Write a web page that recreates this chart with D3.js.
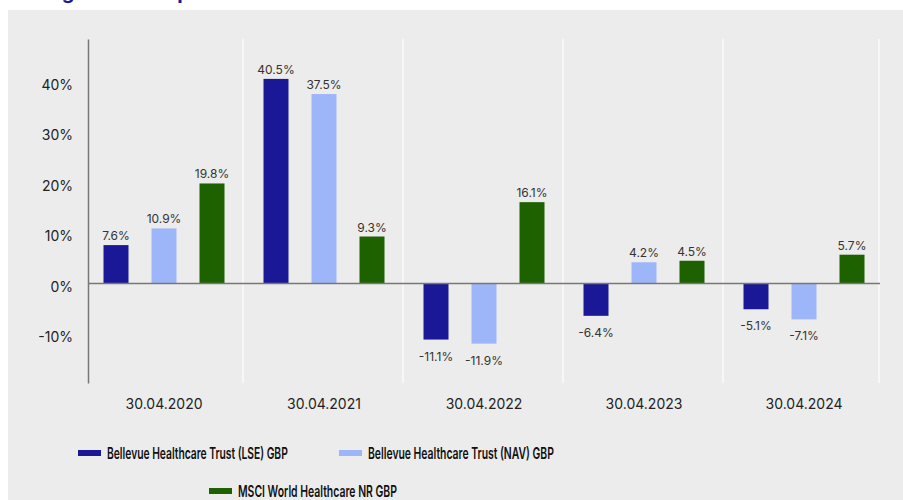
<!DOCTYPE html>
<html>
  <head>
    <meta charset="utf-8">
    <script src="https://d3js.org/d3.v7.min.js"></script>
    <style>
      body { margin: 0; background: #fff; }
      svg text { font-family: Inter, "Noto Sans", sans-serif; }
    </style>
  </head>
<body>
  <script type="text/javascript">
    // data
    var categories = ["30.04.2020", "30.04.2021", "30.04.2022", "30.04.2023", "30.04.2024"];
    var seriesNames = ["Bellevue Healthcare Trust (LSE) GBP", "Bellevue Healthcare Trust (NAV) GBP", "MSCI World Healthcare NR GBP"];
    var lseValues = [7.6, 40.5, -11.1, -6.4, -5.1];
    var navValues = [10.9, 37.5, -11.9, 4.2, -7.1];
    var msciValues = [19.8, 9.3, 16.1, 4.5, 5.7];
    var yTicks = [-10, 0, 10, 20, 30, 40];
    var colors = ["#1a1896", "#9db5f9", "#1e6100"];

    var allValues = [lseValues, navValues, msciValues];

    var svg = d3.select("body").append("svg")
      .attr("width", 903)
      .attr("height", 500);

    // grey panel
    svg.append("rect")
      .attr("x", 8).attr("y", 10)
      .attr("width", 895).attr("height", 490)
      .attr("fill", "#ececec");

    // title, cut off at the top as in the original
    svg.append("text")
      .attr("x", 8).attr("y", -1)
      .attr("font-size", 20)
      .attr("font-weight", 700)
      .attr("fill", "#1a1896")
      .text("Rolling 12-month performance");

    var x = d3.scaleBand().domain(categories).range([84, 884]);
    var xi = d3.scaleBand().domain(seriesNames).range([-72, 72]);
    var y = d3.scaleLinear().domain([-19.7, 48.4]).range([383, 39]);
    var barW = 25;

    // white separators between the groups
    svg.selectAll("line.sep")
      .data(categories)
      .enter()
      .append("line")
        .attr("class", "sep")
        .attr("x1", function(d) { return Math.min(879, x(d) + x.bandwidth() - 1); })
        .attr("x2", function(d) { return Math.min(879, x(d) + x.bandwidth() - 1); })
        .attr("y1", y.range()[1])
        .attr("y2", y.range()[0])
        .attr("stroke", "#ffffff")
        .attr("stroke-width", 1.2);

    // bars
    allValues.forEach(function(vals, si) {
      var g = svg.append("g");
      g.selectAll("rect")
        .data(vals)
        .enter()
        .append("rect")
          .attr("x", function(d, i) { return x(categories[i]) + x.bandwidth() / 2 + xi(seriesNames[si]) + (xi.bandwidth() - barW) / 2; })
          .attr("y", function(d) { return y(Math.max(0, d)); })
          .attr("width", barW)
          .attr("height", function(d) { return Math.abs(y(d) - y(0)); })
          .attr("fill", colors[si]);

      g.selectAll("text")
        .data(vals)
        .enter()
        .append("text")
          .attr("x", function(d, i) { return x(categories[i]) + x.bandwidth() / 2 + xi(seriesNames[si]) + xi.bandwidth() / 2; })
          .attr("y", function(d) { return d >= 0 ? y(d) - 5 : y(d) + 21; })
          .attr("text-anchor", "middle")
          .attr("font-size", 12)
          .attr("fill", "#333")
          .text(function(d) { return d.toFixed(1) + "%"; });
    });

    // zero line
    svg.append("line")
      .attr("x1", 88).attr("x2", 880)
      .attr("y1", y(0)).attr("y2", y(0))
      .attr("stroke", "#777")
      .attr("stroke-width", 1.5);

    // y axis
    var yAxis = d3.axisLeft(y)
      .tickValues(yTicks)
      .tickSize(0)
      .tickPadding(15)
      .tickFormat(function(d) { return d + "%"; });

    var ya = svg.append("g")
      .attr("transform", "translate(88,0)")
      .call(yAxis);
    ya.select(".domain").attr("stroke", "#777").attr("stroke-width", 1.5);
    ya.selectAll("text").attr("font-size", 14).attr("fill", "#222")
      .attr("dy", "0.55em")
      .style("font-family", "Inter, sans-serif");

    // x axis labels
    var xAxis = d3.axisBottom(x).tickSize(0).tickPadding(16);
    var xa = svg.append("g")
      .attr("transform", "translate(0,383)")
      .call(xAxis);
    xa.select(".domain").remove();
    xa.selectAll("text").attr("font-size", 14).attr("fill", "#222")
      .style("font-family", "Inter, sans-serif");

    // legend (condensed look: squeeze each label horizontally)
    var legendPos = [[78, 453, 181], [339, 453, 186], [209, 491, 159]];
    seriesNames.forEach(function(name, i) {
      var p = legendPos[i];
      svg.append("rect")
        .attr("x", p[0]).attr("y", p[1] - 3)
        .attr("width", 23).attr("height", 6)
        .attr("fill", colors[i]);
      var t = svg.append("text")
        .attr("x", 0).attr("y", 0)
        .attr("font-size", 16)
        .attr("font-weight", 600)
        .attr("fill", "#111")
        .text(name);
      var w = t.node().getComputedTextLength();
      t.attr("transform", "translate(" + (p[0] + 29) + "," + (p[1] + 6) + ") scale(" + (p[2] / w) + ",1)");
    });
  </script>
</body>
</html>
